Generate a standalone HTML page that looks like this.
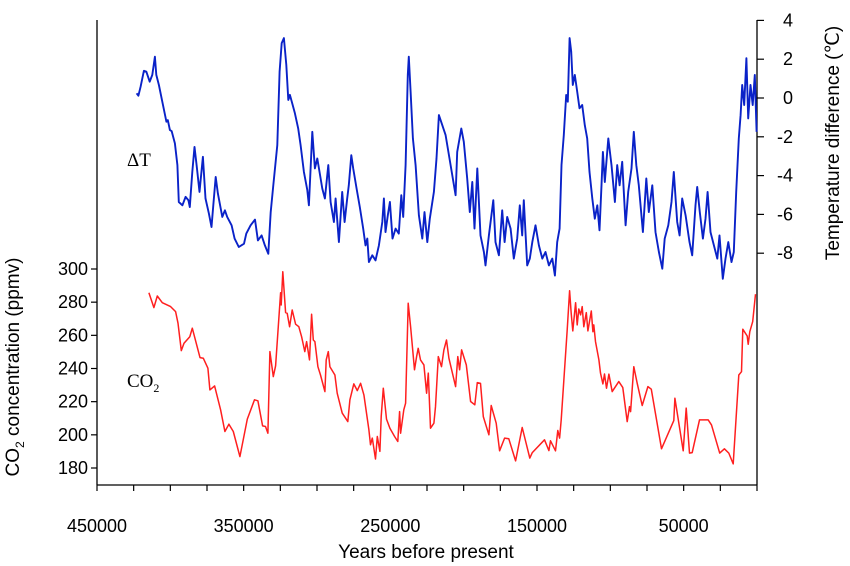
<!DOCTYPE html>
<html><head><meta charset="utf-8"><style>
html,body{margin:0;padding:0;background:#fff;}
svg{display:block;font-family:"Liberation Sans",sans-serif;}
</style></head><body>
<svg id="chart" width="850" height="566" viewBox="0 0 850 566" xmlns="http://www.w3.org/2000/svg">
<g id="axes" stroke="#000" stroke-width="1.3" fill="none">
<line x1="97" y1="20" x2="97" y2="485"/>
<line x1="757" y1="20" x2="757" y2="485"/>
<line x1="97" y1="485" x2="757" y2="485"/>
</g>
<g id="ticks"></g>
<g id="series"></g>
<text x="127" y="166" font-family="Liberation Serif,serif" font-size="19">ΔT</text>
<text x="127" y="387" font-family="Liberation Serif,serif" font-size="19">CO<tspan font-size="12" dy="5">2</tspan></text>
<text x="426" y="558" text-anchor="middle" font-size="19">Years before present</text>
<text transform="translate(19,367) rotate(-90)" text-anchor="middle" font-size="19">CO<tspan font-size="12" dy="5">2</tspan><tspan dy="-5"> concentration (ppmv)</tspan></text>
<text transform="translate(839,143) rotate(-90)" text-anchor="middle" font-size="19">Temperature difference (℃)</text>
</svg>
<script>
const xTicks=[450000,350000,250000,150000,50000];
const co2Ticks=[300,280,260,240,220,200,180];
const tempTicks=[4,2,0,-2,-4,-6,-8];
const co2Years=[414600,411200,408900,405500,399800,396400,394800,392500,390700,386700,385000,379800,377500,374400,373000,369800,365700,362800,360100,357100,352600,347500,342600,340300,337100,335100,333500,332100,329800,328200,324800,324400,323300,321400,320300,318700,316900,314600,312400,310500,308300,307100,305100,303700,302500,301400,299400,297600,294600,293700,292300,291200,287800,286200,282800,279000,277600,274900,272500,270300,268000,264600,263500,262300,260100,258900,257100,256200,254800,252600,250300,247100,244900,243700,243000,240800,239600,237800,236200,233500,232100,231000,229400,227100,225300,224100,222600,220300,219200,217300,215100,213500,211700,210100,205500,204000,202800,201400,198200,195300,192400,190700,188500,186600,182800,181200,177800,175500,172100,169200,164600,160100,154900,153200,144900,141900,140800,137400,135800,134600,133500,129400,127800,126700,125600,123700,122600,121500,120300,119200,118100,116400,115300,113000,111900,111300,110100,107800,106700,105100,104000,102600,101000,98700,94200,91500,88500,86900,86200,84000,81700,78300,74400,72100,65100,56700,56000,50300,48300,46000,44200,39200,33300,31000,25400,22200,19200,16200,12400,10600,9700,6700,6000,4900,2900,1000];
const co2Values=[285.7,276.7,283.7,279.7,277.3,274.3,267.3,250.8,255.2,259.2,264.3,246.6,246.2,240.2,227.1,229.5,215.1,202.0,206.4,202.0,186.9,209.5,221.1,220.5,205.4,205.0,201.0,250.2,235.1,241.6,285.7,278.3,298.4,273.7,273.3,265.2,275.3,266.7,265.2,259.2,250.2,256.2,245.2,272.7,257.2,256.2,241.1,236.1,226.1,245.2,250.2,241.1,236.1,225.1,213.1,208.0,221.1,230.7,226.7,231.1,224.1,203.0,194.0,198.0,185.4,199.0,190.0,211.0,228.1,209.5,204.0,199.0,196.0,214.0,201.0,215.1,219.1,279.3,265.2,239.2,247.2,252.2,245.2,242.2,225.1,237.2,204.0,207.0,217.0,247.2,241.1,251.2,257.2,246.2,229.1,247.2,239.2,251.2,242.2,220.1,218.1,231.5,231.1,211.0,200.0,217.7,207.0,190.4,198.0,197.6,184.3,204.4,186.0,189.3,197.0,190.5,196.4,190.4,202.6,198.0,209.0,263.3,286.9,273.3,262.7,279.7,266.3,275.9,272.3,277.3,265.2,273.7,262.7,274.7,262.2,266.3,256.2,245.2,237.2,230.7,236.7,228.1,236.6,226.1,232.1,228.5,208.0,217.0,214.0,241.1,231.1,217.7,229.1,227.5,191.6,208.6,222.1,190.4,216.1,189.0,189.3,209.0,209.0,206.0,189.0,191.6,189.0,182.5,236.1,238.1,263.7,259.6,254.6,262.2,268.3,284.8];
const tempYears=[423000,421800,420300,418000,416400,414100,412300,410500,409600,407800,405500,402700,401700,400300,399100,396900,395200,394200,391800,389600,387700,386700,385000,383500,382100,380100,377800,376000,373700,371900,370700,369100,367600,364600,362800,361200,358200,356200,353300,349800,348200,345300,342300,340300,337800,335500,333200,331600,329800,327100,325500,324100,322600,320900,319600,318500,316900,315100,312800,311200,308900,306600,305500,303200,301400,299800,296400,294600,292300,290700,288500,287300,285100,282800,281200,279400,278300,276600,275300,273000,270800,268500,266900,265700,264600,262300,260100,257800,255500,254400,253300,251700,250300,248500,246400,244200,242500,241200,239600,238100,237400,236200,234600,232800,230500,228200,226700,224800,223100,220300,218500,216900,214600,212300,208900,205500,204400,201600,199900,197600,195800,194100,192600,190700,188500,186200,185100,182800,179800,178300,176000,173700,172100,170300,168000,165800,163500,161700,160100,159000,156700,154900,153200,151000,148700,146400,144200,141900,139600,137800,136200,134600,133300,131700,130100,129000,127800,126700,125600,124200,122600,121000,119200,117400,115800,114200,112300,110600,108900,107400,106000,105100,103800,101400,99200,96900,95300,93700,91900,89600,87800,85600,84000,82300,80600,77800,75500,73800,71400,69200,66900,64600,62900,60500,58300,56700,54400,52800,51000,48700,46000,44200,41900,40800,39000,36900,35100,33700,31700,29400,27100,25600,23300,21500,19600,17400,15800,14200,12400,11200,10100,8700,7200,6000,4400,2900,1500,300];
const tempValues=[0.24,0.12,0.58,1.40,1.36,0.84,1.19,2.13,1.19,0.67,-0.19,-1.22,-1.14,-1.65,-1.71,-2.34,-3.46,-5.36,-5.53,-5.10,-5.27,-5.62,-3.81,-2.52,-3.46,-4.84,-3.03,-5.18,-5.96,-6.65,-5.53,-4.07,-4.93,-6.13,-5.79,-6.13,-6.56,-7.25,-7.68,-7.51,-6.99,-6.56,-6.27,-7.34,-7.08,-7.60,-8.03,-5.88,-4.50,-2.43,1.36,2.83,3.09,1.71,-0.10,0.16,-0.27,-0.79,-1.57,-2.43,-3.81,-4.75,-5.53,-1.74,-3.63,-3.12,-4.67,-5.18,-3.46,-5.36,-6.39,-5.18,-7.43,-4.84,-6.39,-5.18,-4.50,-2.95,-3.63,-4.67,-5.62,-6.73,-7.60,-7.25,-8.46,-8.11,-8.37,-7.60,-6.39,-5.18,-6.91,-6.05,-5.36,-7.25,-6.73,-6.99,-5.01,-6.13,-3.46,1.19,2.13,0.33,-2.08,-3.46,-6.05,-7.25,-5.88,-7.43,-6.22,-4.84,-3.12,-0.88,-1.40,-1.91,-3.46,-5.01,-2.78,-1.57,-2.26,-4.15,-5.88,-4.33,-6.73,-3.63,-7.08,-7.94,-8.63,-7.08,-5.27,-7.43,-8.11,-5.79,-7.43,-6.13,-6.73,-8.28,-7.25,-5.53,-7.08,-5.27,-8.63,-8.28,-7.43,-6.56,-7.60,-8.28,-7.94,-8.63,-8.28,-9.15,-7.43,-6.73,-3.46,-1.91,0.16,-0.19,3.09,2.39,0.67,1.19,0.33,-0.53,-0.36,-1.40,-2.08,-3.81,-5.18,-6.22,-5.53,-6.82,-4.50,-2.78,-4.33,-2.08,-3.46,-5.36,-3.46,-4.50,-3.29,-6.56,-4.84,-3.63,-1.74,-3.46,-4.50,-6.91,-4.15,-5.88,-4.50,-6.91,-7.94,-8.80,-7.25,-6.56,-5.36,-3.81,-6.39,-7.08,-5.18,-6.05,-7.43,-8.11,-5.53,-4.58,-5.88,-7.25,-6.22,-4.84,-6.91,-7.60,-8.28,-7.08,-9.32,-8.28,-7.43,-8.46,-7.94,-4.84,-2.08,-0.88,0.67,-0.36,2.05,-1.05,0.67,-0.36,1.19,-1.74];

const NS='http://www.w3.org/2000/svg';
function xScale(yr){return 757-yr*660/450000;}
function co2Scale(v){return 269+(300-v)*(199/120);}
function tempScale(t){return 98-t*19.4;}
const ticks=document.getElementById('ticks');
const series=document.getElementById('series');
function mk(tag,attrs,parent){const e=document.createElementNS(NS,tag);for(const k in attrs)e.setAttribute(k,attrs[k]);parent.appendChild(e);return e;}
for(let yr=450000;yr>=0;yr-=25000){
  const x=xScale(yr);
  const t=mk('line',{x1:x,y1:485,x2:x,y2:491,stroke:'#000','stroke-width':1.2},ticks);
  
  
}
xTicks.forEach(v=>{
  const t=mk('text',{x:xScale(v),y:532,'text-anchor':'middle','font-size':18},ticks);
  t.textContent=String(v);
  
  
});
co2Ticks.forEach(v=>{
  const y=co2Scale(v);
  const l=mk('line',{x1:91,y1:y,x2:97,y2:y,stroke:'#000','stroke-width':1.2},ticks);
  
  
  const t=mk('text',{x:88,y:y+6,'text-anchor':'end','font-size':18},ticks);
  t.textContent=String(v);
  
  
});
tempTicks.forEach(v=>{
  const y=tempScale(v);
  const l=mk('line',{x1:757,y1:y,x2:764,y2:y,stroke:'#000','stroke-width':1.2},ticks);
  
  
  const t=mk('text',{x:793,y:y+6,'text-anchor':'end','font-size':18},ticks);
  t.textContent=String(v);
  
  
});
const tp=tempYears.map((yr,i)=>xScale(yr).toFixed(1)+','+tempScale(tempValues[i]).toFixed(1)).join(' ');
const tl=mk('polyline',{points:tp,fill:'none',stroke:'#0a22c8','stroke-width':1.9,'stroke-linejoin':'round'},series);


const cp=co2Years.map((yr,i)=>xScale(yr).toFixed(1)+','+co2Scale(co2Values[i]).toFixed(1)).join(' ');
const cl=mk('polyline',{points:cp,fill:'none',stroke:'#ff1f1f','stroke-width':1.5,'stroke-linejoin':'round'},series);


</script>
</body></html>
